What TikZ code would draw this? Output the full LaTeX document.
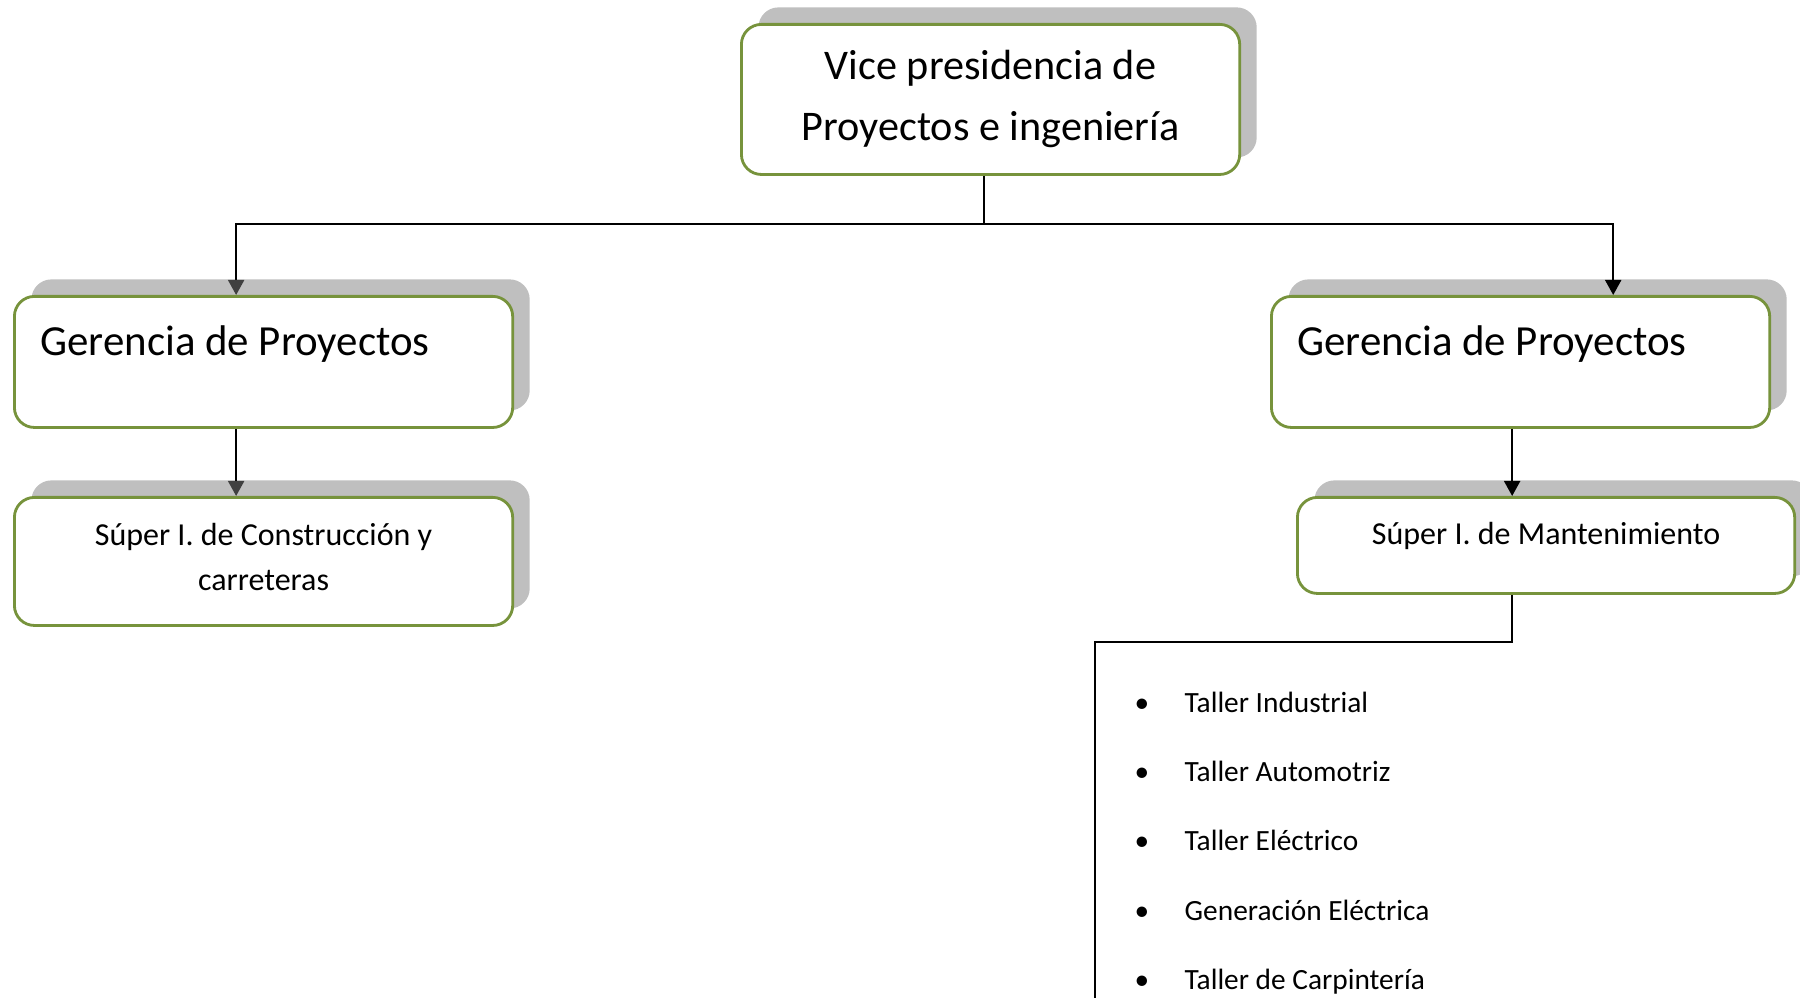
\documentclass[tikz,border=0pt]{standalone}
\usepackage{fontspec}
\setmainfont{Carlito}
\usepackage{tikz}
\usetikzlibrary{arrows.meta,shadows,positioning,calc}
\definecolor{orggreen}{HTML}{77933C}
\definecolor{orgshadow}{HTML}{BFBFBF}
\definecolor{orgarrow}{HTML}{404040}

\begin{document}
\begin{tikzpicture}[x=0.01cm, y=-0.01cm,
  unit/.style={draw=orggreen, line width=0.8pt, fill=white, rounded corners=0.2cm,
    inner xsep=0pt, inner ysep=0pt,
    drop shadow={shadow xshift=0.17cm, shadow yshift=0.17cm, fill=orgshadow, opacity=1}},
  link/.style={black, line width=0.55pt},
  arr/.style={link, -{Triangle[width=1.6mm,length=1.5mm]}},
  grayarr/.style={link, -{Triangle[width=1.6mm,length=1.5mm,color=orgarrow]}},
  task/.style={font=\fontsize{8.35}{10}\selectfont, inner sep=0pt}]
  \clip (0,0) rectangle (1800,998);

  % Vice presidency
  \node[unit, anchor=north west, minimum width=4.98cm, align=center,
    text height=1.16cm, text depth=0.34cm, font=\fontsize{12}{17.2}\selectfont]
    (vice) at (740,23) {Vice presidencia de\\Proyectos e ingeniería};

  % Project managers
  \node[unit, anchor=north west, minimum width=4.98cm, text height=0.59cm,
    text depth=0.72cm, font=\fontsize{12.2}{14}\selectfont] (gerL) at (13,295)
    {\makebox[4.46cm][l]{Gerencia de Proyectos}};
  \node[unit, anchor=north west, minimum width=4.98cm, text height=0.59cm,
    text depth=0.72cm, font=\fontsize{12.2}{14}\selectfont] (gerR) at (1270,295)
    {\makebox[4.46cm][l]{Gerencia de Proyectos}};

  % Superintendents
  \node[unit, anchor=north west, minimum width=4.98cm, align=center,
    text height=0.93cm, text depth=0.35cm, font=\fontsize{9.1}{12.8}\selectfont]
    (supL) at (13,496) {Súper I. de Construcción y\\carreteras};
  \node[unit, anchor=north west, minimum width=4.97cm, text height=0.47cm,
    text depth=0.49cm, font=\fontsize{9.1}{12.8}\selectfont] (supR) at (1296,496)
    {Súper I. de Mantenimiento};

  % Connectors
  \coordinate (split) at ([xshift=-0.07cm]vice.south |- 0,224);
  \coordinate (inL) at ([xshift=2.23cm]gerL.north west);
  \coordinate (inR) at ([xshift=3.43cm]gerR.north west);
  \coordinate (outL) at ([xshift=2.23cm]gerL.south west);
  \coordinate (outR) at ([xshift=2.42cm]gerR.south west);
  \draw[link] ([xshift=-0.07cm]vice.south) -- (split);
  \draw[grayarr] (split) -| (inL);
  \draw[arr] (split) -| (inR);
  \draw[grayarr] (outL) -- (outL |- supL.north);
  \draw[arr] (outR) -- (outR |- supR.north);

  % Workshops
  \coordinate (listend) at (1095,1010);
  \draw[link] (outR |- supR.south) -- ++(0,47) -| (listend);
  \foreach \task [count=\i] in {Taller Industrial, Taller Automotriz, Taller Eléctrico,
      Generación Eléctrica, Taller de Carpintería} {
    \node[task, anchor=base west] (work\i) at (1184,{713+69*(\i-1)}) {\task};
    \node[task, anchor=base] (dot\i) at (1142,{713+69*(\i-1)}) {\textbullet};
  }
\end{tikzpicture}
\end{document}
